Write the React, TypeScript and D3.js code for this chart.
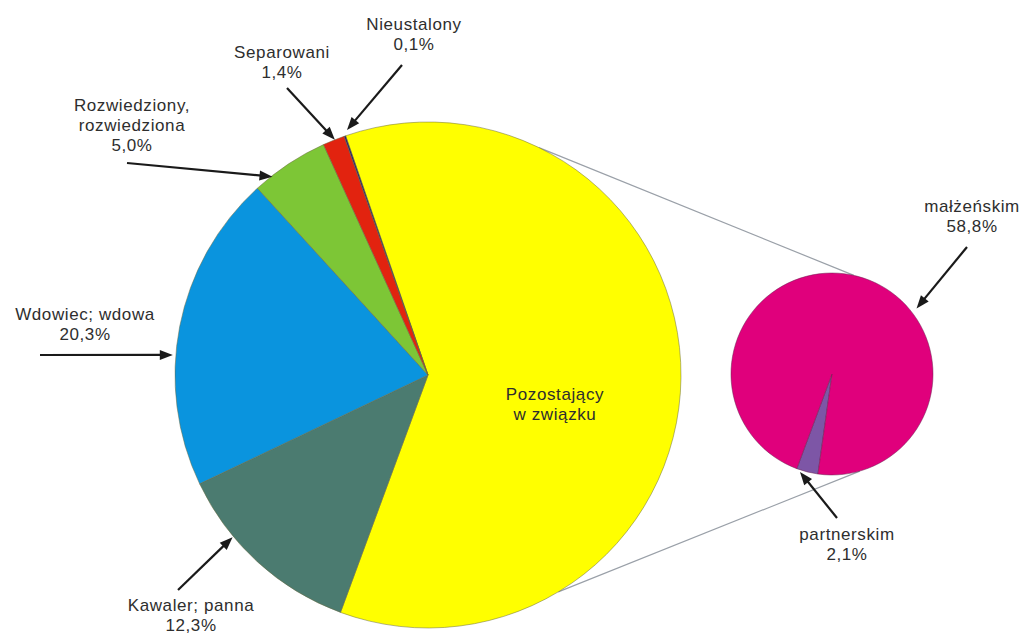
import React from 'react';
import * as d3 from 'd3';

// ---- data ----
const mainCategories = ['Pozostający w związku', 'Kawaler; panna', 'Wdowiec; wdowa', 'Rozwiedziony, rozwiedziona', 'Separowani', 'Nieustalony'];
const mainValues = [60.9, 12.3, 20.3, 5.0, 1.4, 0.1];
const mainColors = ['#FFFF00', '#4B7B70', '#0A94DE', '#7DC636', '#E2230F', '#2B1B6B'];

const subCategories = ['partnerskim', 'małżeńskim'];
const subValues = [2.1, 58.8];
const subColors = ['#7D56A6', '#E0007C'];

// label text lines
const mainLabelLines = [
  ['Pozostający', 'w związku'],
  ['Kawaler; panna', '12,3%'],
  ['Wdowiec; wdowa', '20,3%'],
  ['Rozwiedziony,', 'rozwiedziona', '5,0%'],
  ['Separowani', '1,4%'],
  ['Nieustalony', '0,1%'],
];
const subLabelLines = [
  ['partnerskim', '2,1%'],
  ['małżeńskim', '58,8%'],
];

// ---- layout ----
const W = 1022, H = 634;
const deg = Math.PI / 180;
const MAIN = { cx: 428, cy: 375, r: 253, start: -19 };
const SUB = { cx: 832, cy: 374, r: 101, start: 188 };

// label layout: text anchor (x, first baseline), arrow tail, arrow tip angle & radius
const mainLabelLayout = [
  { x: 555, y: 400, tail: null, tipA: 0, tipR: 0 },
  { x: 191, y: 611, tail: [178, 590], tipA: -129.7, tipR: 254 },
  { x: 85, y: 320, tail: [40, 355], tipA: -85.5, tipR: 256 },
  { x: 132, y: 111, tail: [127, 163], tipA: -38.1, tipR: 252 },
  { x: 282, y: 58, tail: [287, 88], tipA: -21.6, tipR: 253 },
  { x: 414, y: 30, tail: [402, 65], tipA: -18.3, tipR: 258 },
];
const subLabelLayout = [
  { x: 847, y: 540, tail: [837, 518], tipA: 198.1, tipR: 103 },
  { x: 972, y: 212, tail: [967, 247], tipA: 52.2, tipR: 107 },
];
const connectors = [
  { a1: 26, a2: 12.5 },
  { a1: 149, a2: 164 },
];

const LINE_H = 20;
const FONT = '"Liberation Sans", Arial, Helvetica, sans-serif';

function polar(c: { cx: number; cy: number }, r: number, aDeg: number): [number, number] {
  const a = aDeg * deg;
  return [c.cx + r * Math.sin(a), c.cy - r * Math.cos(a)];
}

function Arrow({ from, to }: { from: number[]; to: number[] }) {
  const dx = to[0] - from[0], dy = to[1] - from[1];
  const len = Math.hypot(dx, dy);
  const ux = dx / len, uy = dy / len;
  const hl = 13, hw = 5;
  const bx = to[0] - ux * hl, by = to[1] - uy * hl;
  const p1 = [bx - uy * hw, by + ux * hw];
  const p2 = [bx + uy * hw, by - ux * hw];
  return (
    <g>
      <line x1={from[0]} y1={from[1]} x2={bx + ux * 2} y2={by + uy * 2} stroke="#1a1a1a" strokeWidth={2.2} />
      <path d={`M${to[0]},${to[1]}L${p1[0]},${p1[1]}L${p2[0]},${p2[1]}Z`} fill="#1a1a1a" />
    </g>
  );
}

function Label({ x, y, lines }: { x: number; y: number; lines: string[] }) {
  return (
    <text x={x} y={y} textAnchor="middle" fontFamily={FONT} fontSize={17} letterSpacing={0.6} fill="#2e2e2e">
      {lines.map((l, i) => (
        <tspan key={i} x={x} y={y + i * LINE_H}>{l}</tspan>
      ))}
    </text>
  );
}

export default function App() {
  const mainPie = d3.pie<number>().sort(null).startAngle(MAIN.start * deg).endAngle((MAIN.start + 360) * deg)(mainValues);
  const subPie = d3.pie<number>().sort(null).startAngle(SUB.start * deg).endAngle((SUB.start + 360) * deg)(subValues);
  const mainArc = d3.arc<d3.PieArcDatum<number>>().innerRadius(0).outerRadius(MAIN.r);
  const subArc = d3.arc<d3.PieArcDatum<number>>().innerRadius(0).outerRadius(SUB.r);

  return (
    <svg width={W} height={H} style={{ position: 'absolute', left: 0, top: 0, background: '#fff' }}>
      {connectors.map((c, i) => {
        const p1 = polar(MAIN, MAIN.r, c.a1);
        const p2 = polar(SUB, SUB.r, c.a2);
        return <line key={i} x1={p1[0]} y1={p1[1]} x2={p2[0]} y2={p2[1]} stroke="#9aa0a8" strokeWidth={1.2} />;
      })}
      <g transform={`translate(${MAIN.cx},${MAIN.cy})`}>
        {mainPie.map((d, i) => (
          <path key={mainCategories[i]} d={mainArc(d) || ''} fill={mainColors[i]} stroke="#6b6b40" strokeWidth={0.5} />
        ))}
      </g>
      <g transform={`translate(${SUB.cx},${SUB.cy})`}>
        {subPie.map((d, i) => (
          <path key={subCategories[i]} d={subArc(d) || ''} fill={subColors[i]} stroke="#6b2050" strokeWidth={0.5} />
        ))}
      </g>
      {mainLabelLayout.map((l, i) => (
        <g key={'m' + i}>
          {l.tail && <Arrow from={l.tail} to={polar(MAIN, l.tipR, l.tipA)} />}
          <Label x={l.x} y={l.y} lines={mainLabelLines[i]} />
        </g>
      ))}
      {subLabelLayout.map((l, i) => (
        <g key={'s' + i}>
          {l.tail && <Arrow from={l.tail} to={polar(SUB, l.tipR, l.tipA)} />}
          <Label x={l.x} y={l.y} lines={subLabelLines[i]} />
        </g>
      ))}
    </svg>
  );
}
